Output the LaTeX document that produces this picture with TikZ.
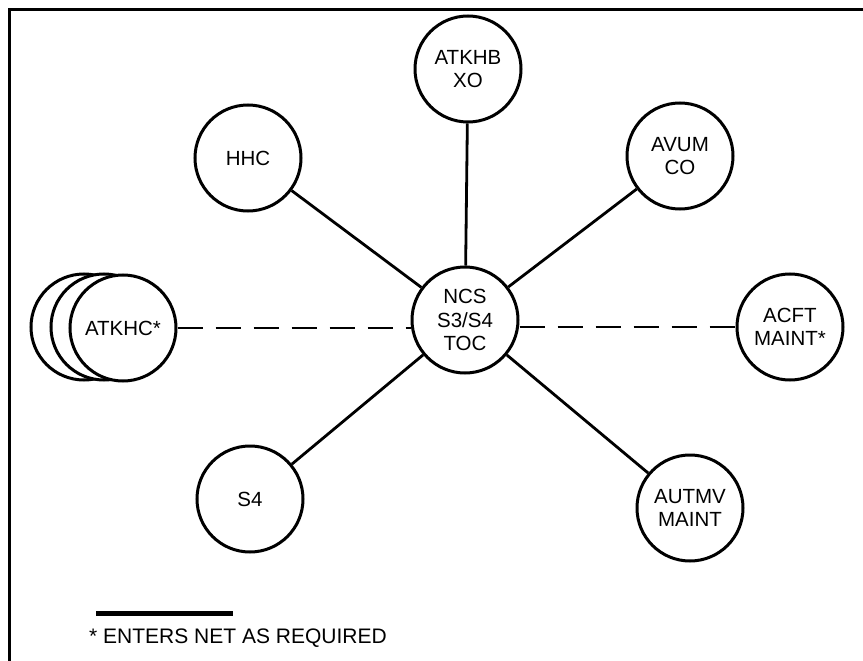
\documentclass[tikz,border=0pt]{standalone}
\usepackage{fontspec}
\setmainfont{Liberation Sans}
\begin{document}
\begin{tikzpicture}[x=1pt,y=-1pt,
  stn/.style={circle,draw,line width=3pt,minimum size=106pt,inner sep=0pt,fill=white,align=center,font=\fontsize{20.5}{23.5}\selectfont},
  link/.style={line width=2.8pt},
  dlink/.style={line width=2.8pt,dash pattern=on 25pt off 13pt},
  frame/.style={line width=3pt}]
\useasboundingbox (0,0) rectangle (863,661);
\draw[frame] (9.5,661) -- (9.5,9.5) -- (863,9.5);
% stations
\node[stn] (ncs) at (465,320) {NCS\\S3/S4\\TOC};
\node[stn] (atkhb) at (468,69) {ATKHB\\XO};
\node[stn] (hhc) at (248,158) {HHC};
\node[stn] (avum) at (680,156) {AVUM\\CO};
\node[stn] (acft) at (790,327) {ACFT\\MAINT*};
\node[stn] (autmv) at (690,508) {AUTMV\\MAINT};
\node[stn] (s4) at (250,499) {S4};
\node[stn] (atkhcc) at (84,327) {};
\node[stn] (atkhcb) at (104,327) {};
\node[stn] (atkhc) at (123,328) {ATKHC*};
% links
\draw[link] (ncs) -- (hhc);
\draw[link] (ncs) -- (atkhb);
\draw[link] (ncs) -- (avum);
\draw[link] (ncs) -- (s4);
\draw[link] (ncs) -- (autmv);
\draw[dlink] (atkhc.east) -- (atkhc.east -| ncs.west);
\draw[dlink] (acft.west -| ncs.east) -- (acft.west);
% legend
\coordinate (la) at (96,613);
\coordinate (lb) at (233,613);
\draw[line width=5pt] (la) -- (lb);
\node[anchor=base west,inner sep=0pt,font=\fontsize{21}{25}\selectfont] (note) at (89,643) {* ENTERS NET AS REQUIRED};
\end{tikzpicture}
\end{document}
